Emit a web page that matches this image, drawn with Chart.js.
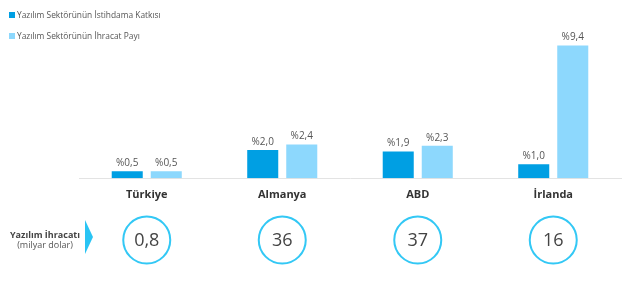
<!DOCTYPE html>
<html>
<head>
<meta charset="utf-8">
<script src="https://cdn.jsdelivr.net/npm/chart.js@4/dist/chart.umd.min.js"></script>
<style>
  html, body { margin: 0; padding: 0; background: #fff; }
  #wrap { position: relative; width: 640px; height: 284px; }
  #legend { position: absolute; left: 9px; top: 9px; font-family: "Open Sans", sans-serif; font-size: 8.4px; color: #555; }
  .li { display: flex; align-items: center; height: 11px; margin-bottom: 10px; }
  .sw { width: 6px; height: 6px; margin-right: 2px; }
</style>
</head>
<body>
<div id="wrap">
  <canvas id="c" width="640" height="284"></canvas>
  <div id="legend"></div>
</div>
<script>
const categories = ["Türkiye", "Almanya", "ABD", "İrlanda"];
const seriesNames = ["Yazılım Sektörünün İstihdama Katkısı", "Yazılım Sektörünün İhracat Payı"];
const employmentShare = [0.5, 2.0, 1.9, 1.0];
const exportShare = [0.5, 2.4, 2.3, 9.4];
const softwareExports = ["0,8", "36", "37", "16"];
const sideTitle = "Yazılım İhracatı";
const sideSub = "(milyar dolar)";
const colors = ["#009fe3", "#8dd8fd"];

const legendEl = document.getElementById('legend');
seriesNames.forEach((n, i) => {
  const d = document.createElement('div'); d.className = 'li';
  const s = document.createElement('span'); s.className = 'sw'; s.style.background = colors[i];
  const t = document.createElement('span'); t.textContent = n;
  d.appendChild(s); d.appendChild(t); legendEl.appendChild(d);
});

const fmt = v => '%' + v.toFixed(1).replace('.', ',');

const labelPlugin = {
  id: 'valueLabels',
  afterDatasetsDraw(chart) {
    const ctx = chart.ctx;
    ctx.save();
    ctx.font = '10px "Open Sans", sans-serif';
    ctx.fillStyle = '#555';
    ctx.textAlign = 'center';
    ctx.textBaseline = 'alphabetic';
    chart.data.datasets.forEach((ds, di) => {
      chart.getDatasetMeta(di).data.forEach((bar, i) => {
        ctx.fillText(fmt(ds.data[i]), bar.x, bar.y - 5);
      });
    });
    ctx.restore();
  }
};

const bottomPlugin = {
  id: 'bottomRow',
  afterDraw(chart) {
    const ctx = chart.ctx;
    const xs = chart.scales.x;
    const cy = 240;
    ctx.save();
    softwareExports.forEach((v, i) => {
      const x = xs.getPixelForValue(i);
      ctx.beginPath();
      ctx.arc(x, cy, 23.5, 0, Math.PI * 2);
      ctx.strokeStyle = '#33c8f5';
      ctx.lineWidth = 2;
      ctx.stroke();
      ctx.font = '18px "Open Sans", sans-serif';
      ctx.fillStyle = '#444';
      ctx.textAlign = 'center';
      ctx.textBaseline = 'middle';
      ctx.fillText(v, x, cy + 1);
    });
    // side label
    ctx.textAlign = 'center';
    ctx.textBaseline = 'middle';
    ctx.font = 'bold 9px "Open Sans", sans-serif';
    ctx.fillStyle = '#444';
    ctx.fillText(sideTitle, 45, 235);
    ctx.font = '9px "Open Sans", sans-serif';
    ctx.fillStyle = '#555';
    ctx.fillText(sideSub, 45, 245);
    // arrow
    ctx.beginPath();
    ctx.moveTo(85, 220);
    ctx.lineTo(93, 237);
    ctx.lineTo(85, 254);
    ctx.closePath();
    ctx.fillStyle = '#29c4f4';
    ctx.fill();
    ctx.restore();
  }
};

new Chart(document.getElementById('c'), {
  type: 'bar',
  data: {
    labels: categories,
    datasets: [
      { label: seriesNames[0], data: employmentShare, backgroundColor: colors[0] },
      { label: seriesNames[1], data: exportShare, backgroundColor: colors[1] }
    ]
  },
  options: {
    responsive: false,
    animation: false,
    events: [],
    categoryPercentage: 0.576,
    barPercentage: 0.795,
    layout: { padding: { left: 79, right: 19, top: 37, bottom: 72.5 } },
    plugins: { legend: { display: false }, tooltip: { enabled: false } },
    scales: {
      x: {
        grid: { display: false, drawTicks: false },
        border: { display: true, color: '#e3e3e3', width: 1 },
        ticks: { padding: 10, color: '#333', font: { family: '"Open Sans", sans-serif', size: 11, weight: 'bold' } }
      },
      y: { display: false, min: 0, max: 10 }
    }
  },
  plugins: [labelPlugin, bottomPlugin]
});
</script>
</body>
</html>
